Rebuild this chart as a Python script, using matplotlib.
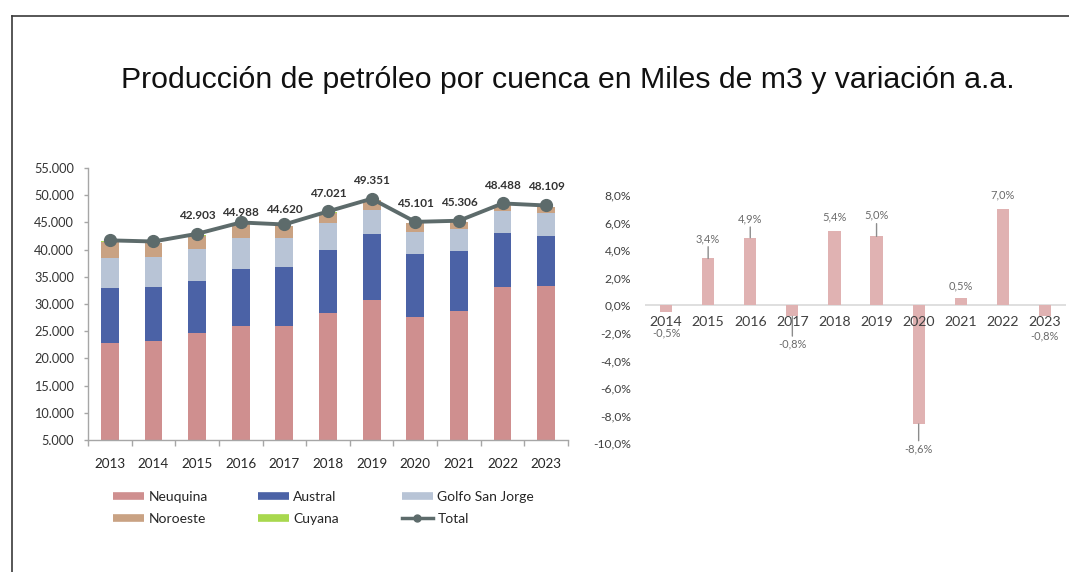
import numpy as np
import matplotlib
matplotlib.use("Agg")
import matplotlib.pyplot as plt
from matplotlib.lines import Line2D
from matplotlib.ticker import FuncFormatter, FixedLocator

# ---------------- data ----------------
years = ['2013', '2014', '2015', '2016', '2017', '2018', '2019', '2020', '2021', '2022', '2023']
neuquina = [22800, 23250, 24600, 26000, 26000, 28400, 30750, 27550, 28770, 33070, 33300]
austral = [10200, 9930, 9690, 10370, 10860, 11530, 12120, 11640, 11030, 9930, 9200]
golfo_san_jorge = [5510, 5520, 5760, 5820, 5210, 5020, 4410, 4100, 3930, 4150, 4160]
noroeste = [2870, 2470, 2540, 2490, 2240, 1770, 1770, 1520, 1290, 1050, 1160]
cuyana = [120, 120, 110, 110, 110, 100, 100, 90, 90, 90, 90]
total = [41700, 41490, 42903, 44988, 44620, 47021, 49351, 45101, 45306, 48488, 48109]
total_labels = ['', '', '42.903', '44.988', '44.620', '47.021', '49.351', '45.101', '45.306', '48.488', '48.109']

var_years = ['2014', '2015', '2016', '2017', '2018', '2019', '2020', '2021', '2022', '2023']
variation = [-0.5, 3.4, 4.9, -0.8, 5.4, 5.0, -8.6, 0.5, 7.0, -0.8]
variation_labels = ['-0,5%', '3,4%', '4,9%', '-0,8%', '5,4%', '5,0%', '-8,6%', '0,5%', '7,0%', '-0,8%']

# ---------------- styles ----------------
W, H = 1069, 572
FONT = 'Lato'
c_neu = '#cf8f8f'
c_aus = '#4b62a6'
c_gsj = '#b8c4d6'
c_noa = '#c9a283'
c_cuy = '#a8d84e'
c_tot = '#5d6b6b'
c_var = '#e0b2b2'

# label offsets (pixels) for total labels and variation labels
tot_off_px = [18, 18, 18, 10, 15, 18, 18, 18, 18, 18, 19]
var_off_px = [-21, 20, 19, -28, 14, 21, -25, 13, 14, -20]
var_leader = [False, True, True, True, False, True, True, False, False, False]

fig = plt.figure(figsize=(W / 100, H / 100), dpi=100)
fig.patch.set_facecolor('white')

# frame lines (left & top)
fig.add_artist(Line2D([12 / W, 12 / W], [0, 1 - 16 / H], transform=fig.transFigure, color='#3a3a3a', lw=1.2))
fig.add_artist(Line2D([12 / W, 1], [1 - 16 / H, 1 - 16 / H], transform=fig.transFigure, color='#3a3a3a', lw=1.2))

# title
fig.text(568 / W, 1 - 80 / H, 'Producción de petróleo por cuenca en Miles de m3 y variación a.a.',
         ha='center', va='center', fontsize=21.8, family='Liberation Sans', color='#111111')

# ---------------- left chart ----------------
ax1 = fig.add_axes([88 / W, 1 - 440 / H, (568 - 88) / W, (440 - 168) / H])
x = np.arange(len(years))
bw = 0.41
series = [(neuquina, c_neu), (austral, c_aus), (golfo_san_jorge, c_gsj), (noroeste, c_noa), (cuyana, c_cuy)]
bottom = np.zeros(len(years))
for vals, col in series:
    v = np.array(vals, dtype=float)
    ax1.bar(x, v, bw, bottom=bottom, color=col, zorder=2)
    bottom += v
ax1.plot(x, total, color=c_tot, lw=2.8, marker='o', ms=8.5, zorder=5)
for i, lab in enumerate(total_labels):
    if lab:
        ax1.annotate(lab, xy=(x[i], total[i]), xytext=(0, tot_off_px[i] * 0.72), textcoords='offset points',
                     ha='center', va='center', fontsize=8.5, fontweight='bold', family=FONT, color='#333333')

ax1.set_xlim(-0.5, len(years) - 0.5)
ax1.set_ylim(5000, 55000)
ax1.set_yticks(np.arange(5000, 55001, 5000))
ax1.yaxis.set_major_formatter(FuncFormatter(lambda v, p: f'{int(v):,}'.replace(',', '.')))
ax1.set_xticks(x)
ax1.set_xticklabels(years)
ax1.xaxis.set_minor_locator(FixedLocator(np.arange(-0.5, len(years), 1.0)))
ax1.tick_params(axis='x', which='major', length=0, pad=13, labelsize=9.7, labelcolor='#262626')
ax1.tick_params(axis='x', which='minor', length=4, width=1, color='#a6a6a6', direction='out')
ax1.tick_params(axis='y', length=3, width=1, color='#a6a6a6', pad=7, labelsize=9.2, labelcolor='#333333')
for lbl in ax1.get_xticklabels() + ax1.get_yticklabels():
    lbl.set_family(FONT)
for s in ['top', 'right']:
    ax1.spines[s].set_visible(False)
for s in ['left', 'bottom']:
    ax1.spines[s].set_color('#a6a6a6')
    ax1.spines[s].set_linewidth(1)
ax1.set_facecolor('none')

# legend (three columns placed separately)
def patch_handle(col):
    return Line2D([0], [0], color=col, lw=5.5, solid_capstyle='butt')

leg_cols = [
    ([patch_handle(c_neu), patch_handle(c_noa)], ['Neuquina', 'Noroeste'], 113),
    ([patch_handle(c_aus), patch_handle(c_cuy)], ['Austral', 'Cuyana'], 258),
    ([patch_handle(c_gsj), Line2D([0], [0], color=c_tot, lw=2.5, marker='o', ms=5)], ['Golfo San Jorge', 'Total'], 402),
]
for hs, ls, px in leg_cols:
    fig.legend(hs, ls, loc='upper left', bbox_to_anchor=(px / W, 1 - 491 / H), frameon=False,
               borderpad=0, borderaxespad=0, handlelength=2.2, handletextpad=0.35, labelspacing=0.72,
               prop={'family': FONT, 'size': 10}, labelcolor='#262626')

# ---------------- right chart ----------------
ax2 = fig.add_axes([645 / W, 1 - 443.3 / H, (1066 - 645) / W, (443.3 - 195) / H])
x2 = np.arange(len(var_years))
ax2.bar(x2, variation, 0.29, color=c_var, zorder=2)
ax2.axhline(0, color='#d9d9d9', lw=1.2, zorder=1)
ax2.set_xlim(-0.5, len(var_years) - 0.5)
ax2.set_ylim(-10, 8)
ax2.set_yticks(np.arange(-10, 8.01, 2))
ax2.yaxis.set_major_formatter(FuncFormatter(lambda v, p: f'{v:.1f}%'.replace('.', ',')))
ax2.set_xticks([])
ax2.tick_params(axis='y', length=0, pad=10, labelsize=8.7, labelcolor='#404040')
for lbl in ax2.get_yticklabels():
    lbl.set_family(FONT)
for s in ax2.spines.values():
    s.set_visible(False)
ax2.set_facecolor('none')

for i, yr in enumerate(var_years):
    ax2.annotate(yr, xy=(x2[i], 0), xytext=(0, -16.7 * 0.72), textcoords='offset points',
                 ha='center', va='center', fontsize=10.2, family=FONT, color='#404040', zorder=3)

for i, lab in enumerate(variation_labels):
    arrow = dict(arrowstyle='-', color='#8c8c8c', lw=1, shrinkA=0, shrinkB=0) if var_leader[i] else None
    ax2.annotate(lab, xy=(x2[i], variation[i]), xytext=(0, var_off_px[i] * 0.72), textcoords='offset points',
                 ha='center', va='center', fontsize=8, family=FONT, color='#6b6b6b', arrowprops=arrow, zorder=4)

fig.savefig('out.png', dpi=100, facecolor='white')
